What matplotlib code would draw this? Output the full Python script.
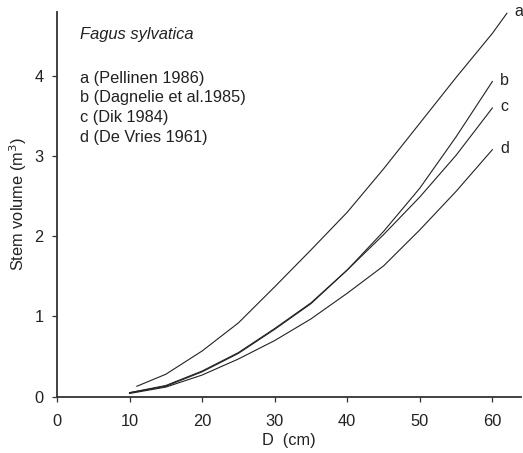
import numpy as np
import matplotlib
matplotlib.use("Agg")
import matplotlib.pyplot as plt

# -----------------------------------------------------------------------------
#                    Stem volume curves
# -----------------------------------------------------------------------------
D_a = [11, 15, 20, 25, 30, 35, 40, 45, 50, 55, 60, 62]
V_a = [0.13, 0.28, 0.57, 0.92, 1.37, 1.83, 2.30, 2.84, 3.41, 3.98, 4.53, 4.78]

D_bcd = [10, 15, 20, 25, 30, 35, 40, 45, 50, 55, 60]
V_b = [0.05, 0.13, 0.31, 0.54, 0.84, 1.16, 1.58, 2.06, 2.60, 3.24, 3.93]
V_c = [0.05, 0.14, 0.32, 0.55, 0.85, 1.17, 1.58, 2.02, 2.49, 3.01, 3.60]
V_d = [0.04, 0.12, 0.27, 0.47, 0.70, 0.97, 1.29, 1.63, 2.08, 2.56, 3.08]

curve_names = ["a", "b", "c", "d"]
legend_lines = ["a (Pellinen 1986)", "b (Dagnelie et al.1985)",
                "c (Dik 1984)", "d (De Vries 1961)"]
species = "Fagus sylvatica"

x_ticks = [0, 10, 20, 30, 40, 50, 60]
y_ticks = [0, 1, 2, 3, 4]

plt.rcParams['font.family'] = ['Liberation Sans', 'DejaVu Sans']

fig = plt.figure(figsize=(5.23, 4.53), dpi=100)
ax = fig.add_axes([57 / 523, 56.3 / 453, 464.4 / 523, 385 / 453])

curves = [(D_a, V_a), (D_bcd, V_b), (D_bcd, V_c), (D_bcd, V_d)]
for (xs, ys), name in zip(curves, curve_names):
    ax.plot(xs, ys, color='#222222', lw=0.8)
    ax.annotate(name, (xs[-1], ys[-1]), xytext=(5.5, 1), textcoords='offset points',
                fontsize=11.5, color='#222222', ha='left', va='center',
                annotation_clip=False)

ax.set_xlim(0, 64)
ax.set_ylim(0, 4.8)
ax.set_xticks(x_ticks)
ax.set_yticks(y_ticks)

for s in ['top', 'right']:
    ax.spines[s].set_visible(False)
for s in ['left', 'bottom']:
    ax.spines[s].set_linewidth(1.3)
    ax.spines[s].set_color('#333333')

ax.tick_params(direction='out', length=3.5, width=0.9, colors='#333333',
               labelsize=11.8, labelcolor='#222222')
ax.tick_params(axis='x', pad=9)
ax.tick_params(axis='y', pad=6)

ax.set_xlabel("D  (cm)", fontsize=11.8, color='#222222', labelpad=3)
ax.set_ylabel("Stem volume (m$^3$)", fontsize=11.8, color='#222222', labelpad=4)

# legend block in the upper left
fig.text(80 / 523, 1 - 35 / 453, species, fontsize=11.9, style='italic',
         color='#222222', va='center', ha='left')
for i, line in enumerate(legend_lines):
    fig.text(80 / 523, 1 - (78 + 19.7 * i) / 453, line, fontsize=11.8,
             color='#222222', va='center', ha='left')

fig.savefig("out.png", dpi=100)
